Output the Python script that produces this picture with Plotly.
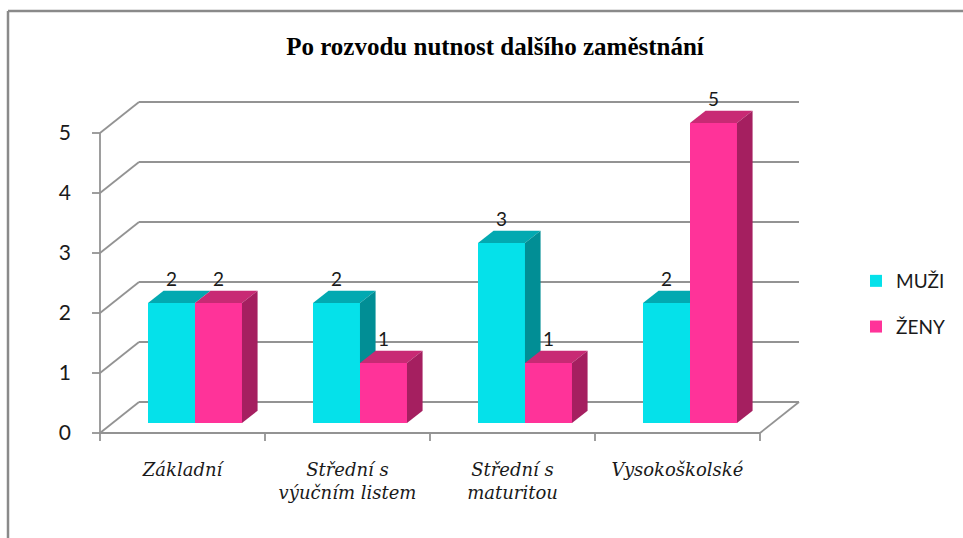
import plotly.graph_objects as go

# ---------------- data ----------------
categories = ["Základní", "Střední s<br>výučním listem", "Střední s<br>maturitou", "Vysokoškolské"]
series_names = ["MUŽI", "ŽENY"]
muzi = [2, 2, 3, 2]
zeny = [2, 1, 1, 5]
y_ticks = [0, 1, 2, 3, 4, 5]
title_text = "Po rozvodu nutnost dalšího zaměstnání"

# ---------------- styling / geometry ----------------
W, H = 963, 538
X0, Y0 = 100, 433          # pixel position of front-left floor corner
UX, UY = 165, 60           # pixels per category / per value unit
DXp, DYp = 39, 31          # oblique depth of the box in pixels
L, R, T, B = 82, 822, 78, 452   # plot area in pixels
xr = [(L - X0) / UX, (R - X0) / UX]
yr = [(Y0 - B) / UY, (Y0 - T) / UY]
DX, DY = DXp / UX, DYp / UY
F0, F1 = 0.32, 0.72        # depth fractions of bar front/back
BW = 47 / UX               # bar width in category units
n_cat = len(categories)
ymax = max(y_ticks)

grid_col = "#939393"
front_cols = ["#05E1EA", "#FF3399"]
top_cols = ["#02A9B1", "#C82A74"]
side_cols = ["#018E95", "#A51F60"]
values = [muzi, zeny]

fig = go.Figure()
shapes = []

def line(x0, y0, x1, y1, layer="below", col=grid_col, w=1.8):
    shapes.append(dict(type="line", xref="x", yref="y", x0=x0, y0=y0, x1=x1, y1=y1,
                       line=dict(color=col, width=w), layer=layer))

def poly(pts, col):
    path = "M " + " L ".join(f"{x},{y}" for x, y in pts) + " Z"
    shapes.append(dict(type="path", xref="x", yref="y", path=path,
                       fillcolor=col, line=dict(width=0), layer="above"))

# back wall gridlines + left wall diagonals
for v in y_ticks:
    line(0, v, DX, v + DY)
    line(DX, v + DY, n_cat + DX, v + DY)
    line(-8 / UX, v, 0, v)  # y tick marks
# front axis line and floor
line(0, 0, 0, ymax)
line(0, 0, n_cat, 0)
line(n_cat, 0, n_cat + DX, DY)
for i in range(n_cat + 1):
    line(i, 0, i, -8 / UY)

# bars: front faces as bar traces
for s, name in enumerate(series_names):
    xs = [i + 0.5 + F0 * DX + (s - 1) * BW + BW / 2 for i in range(n_cat)]
    fig.add_trace(go.Bar(
        x=xs, y=values[s], base=F0 * DY, width=BW, name=name,
        marker=dict(color=front_cols[s], line=dict(width=0)),
        legendgroup=name, hoverinfo="skip"))

# top and side faces
dd, ddy = (F1 - F0) * DX, (F1 - F0) * DY
for i in range(n_cat):
    for s in range(2):
        v = values[s][i]
        x0f = i + 0.5 + F0 * DX + (s - 1) * BW
        x1f = x0f + BW
        yb = F0 * DY
        vt = v + yb
        other = values[1][i] if s == 0 else None
        # top face
        if s == 0 and other > v:
            poly([(x0f, vt), (x1f, vt), (x1f, vt + ddy), (x0f + dd, vt + ddy)], top_cols[s])
        else:
            poly([(x0f, vt), (x1f, vt), (x1f + dd, vt + ddy), (x0f + dd, vt + ddy)], top_cols[s])
        # side face
        if s == 1:
            poly([(x1f, yb), (x1f + dd, yb + ddy), (x1f + dd, vt + ddy), (x1f, vt)], side_cols[s])
        elif other < v:
            yc = other + yb
            poly([(x1f, yc), (x1f + dd, max(yc, yb + ddy)), (x1f + dd, vt + ddy), (x1f, vt)], side_cols[s])

# data labels
for s in range(2):
    xs = [i + 0.5 + F0 * DX + (s - 1) * BW + BW / 2 for i in range(n_cat)]
    ys = [v + F1 * DY for v in values[s]]
    fig.add_trace(go.Scatter(
        x=xs, y=ys, mode="text", text=[str(v) for v in values[s]],
        textposition="top center", showlegend=False, hoverinfo="skip",
        textfont=dict(family="Lato, Carlito, sans-serif", size=19, color="#1a1a1a"),
        cliponaxis=False))

pw, ph = R - L, B - T
def px(xp):
    return (xp - L) / pw
def py(yp):
    return (B - yp) / ph

# chart border (top and left)
shapes.append(dict(type="line", xref="paper", yref="paper", x0=px(8), y0=py(11), x1=px(963), y1=py(11),
                   line=dict(color="#8a8a8a", width=2.5), layer="above"))
shapes.append(dict(type="line", xref="paper", yref="paper", x0=px(8), y0=py(11), x1=px(8), y1=py(540),
                   line=dict(color="#8a8a8a", width=2.5), layer="above"))

fig.update_layout(
    width=W, height=H, autosize=False,
    margin=dict(l=L, r=W - R, t=T, b=H - B, pad=0),
    paper_bgcolor="white", plot_bgcolor="white",
    barmode="overlay", bargap=0,
    shapes=shapes,
    title=dict(text=title_text, x=495 / W, xref="container", xanchor="center",
               y=1 - 46 / H, yref="container", yanchor="middle",
               font=dict(family="Liberation Serif, Times New Roman, serif", size=25,
                         color="#000000", weight="bold")),
    xaxis=dict(range=xr, showgrid=False, zeroline=False, showline=False,
               tickmode="array", tickvals=[i + 0.5 for i in range(n_cat)], ticktext=categories,
               ticks="", ticklabelstandoff=5,
               tickfont=dict(family="DejaVu Serif, serif", size=18, style="italic", color="#1a1a1a")),
    yaxis=dict(range=yr, showgrid=False, zeroline=False, showline=False,
               tickmode="array", tickvals=y_ticks, ticktext=[str(v) for v in y_ticks],
               ticks="", ticklabelstandoff=10,
               tickfont=dict(family="Lato, Carlito, sans-serif", size=21, color="#1a1a1a")),
    legend=dict(x=px(856), xanchor="left", y=py(262), yanchor="top",
                font=dict(family="Lato, Carlito, sans-serif", size=19, color="#1a1a1a"),
                tracegroupgap=18, bgcolor="rgba(0,0,0,0)"),
    showlegend=True,
)

fig.write_html("out.html", config={"displayModeBar": False},
               post_script="document.body.style.margin='0';")
